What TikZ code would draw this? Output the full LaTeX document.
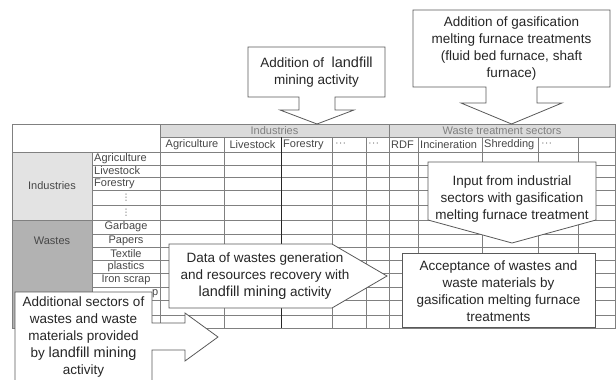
\documentclass[tikz,border=0pt]{standalone}
\usepackage{fontspec}
\setmainfont{Liberation Sans}
\newfontfamily\symfont{DejaVu Sans}
\usepackage{tikz}
\usetikzlibrary{positioning}

\newcommand{\bigword}[1]{{\fontsize{14.5}{17}\selectfont #1}}

\begin{document}
\begin{tikzpicture}[x=1pt, y=-1pt,
  every node/.style={font=\fontsize{11}{12}\selectfont, inner sep=0pt},
  grid/.style={draw=black!50, line width=0.6pt},
  cell/.style={text=black!72},
  head/.style={text=black!50},
  dots/.style={text=black!60, font=\symfont\fontsize{9}{9}\selectfont},
  callout/.style={draw=black!65, fill=white, line width=0.8pt, line join=miter},
  note/.style={align=center, text=black!85, font=\fontsize{13.5}{17}\selectfont}]

\useasboundingbox (0,0) rectangle (616,380);

% table shading
\fill[black!14] (160,124) rectangle (615,137);
\fill[black!11] (12,152) rectangle (92,220);
\fill[black!30] (12,220) rectangle (92,328);

% table rules
\draw[grid] (12,124) rectangle (615,328);
\draw[grid] (160,137) -- (615,137);
\draw[grid] (12,152) -- (615,152);
\draw[grid] (12,220) -- (615,220);
\foreach \y in {165,177,190,205,234,247,260,273,287,300,315}
  \draw[grid] (92,\y) -- (615,\y);
\draw[grid] (92,152) -- (92,328);
\draw[grid] (160,124) -- (160,328);
\draw[grid] (389,124) -- (389,328);
\foreach \x in {224,332,366,418,482,538,578}
  \draw[grid] (\x,137) -- (\x,328);
\draw[black!85, line width=0.9pt] (281,137) -- (281,328);

% header texts
\node[head] (hInd) at (274.5,131) {Industries};
\node[head] (hWaste) at (502,131) {Waste treatment sectors};
\node[cell] (cAgri) at (192,145) {Agriculture};
\node[cell] (cLive) at (252.5,145) {Livestock};
\node[cell, anchor=west] (cFor) at (283,145) {Forestry};
\node[head, anchor=west] (cDotA) at (335,145) {···};
\node[head, anchor=west] (cDotB) at (368,145) {···};
\node[cell, anchor=west] (cRdf) at (391,145) {RDF};
\node[cell, anchor=west] (cInc) at (420,145) {Incineration};
\node[cell, anchor=west] (cShr) at (484,145) {Shredding};
\node[head, anchor=west] (cDotC) at (541,145) {···};

% row texts
\node[cell] (gInd) at (52,186) {Industries};
\node[cell] (gWaste) at (52,241) {Wastes};
\node[cell, anchor=west] (rAgri) at (94,158.5) {Agriculture};
\node[cell, anchor=west] (rLive) at (94,171) {Livestock};
\node[cell, anchor=west] (rFor) at (94,183.5) {Forestry};
\node[dots] (rDotA) at (126,197.5) {⋮};
\node[dots] (rDotB) at (126,212.5) {⋮};
\node[cell] (rGarb) at (126,227) {Garbage};
\node[cell] (rPap) at (126,240.5) {Papers};
\node[cell] (rTex) at (126,253.5) {Textile};
\node[cell] (rPla) at (126,266.5) {plastics};
\node[cell] (rIron) at (126,280) {Iron scrap};
\node[cell, anchor=west] (rHid) at (152,293.5) {p};

% callouts
\draw[callout] (248,47) -- (385,47) -- (385,97) -- (335,97) -- (335,110) -- (354,110)
  -- (317,124) -- (280,110) -- (299,110) -- (299,97) -- (248,97) -- cycle;
\node[note] (landfill) at (316.5,72) {Addition of\ \ \bigword{landfill}\\mining activity};

\draw[callout] (413,10) -- (610,10) -- (610,87) -- (537,87) -- (537,103) -- (562,103)
  -- (511.5,124) -- (461,103) -- (486,103) -- (486,87) -- (413,87) -- cycle;
\node[note] (gasif) at (511.5,48.5) {Addition of gasification\\melting furnace treatments\\(fluid bed furnace, shaft\\furnace)};

\draw[callout] (428,162) -- (596,162) -- (596,220) -- (512,243) -- (428,220) -- cycle;
\node[note] (input) at (512,199) {Input from industrial\\sectors with gasification\\melting furnace treatment};

\draw[callout] (169,244) -- (332,244) -- (387,276) -- (332,308) -- (169,308) -- cycle;
\node[note] (wastedata) at (265,276) {Data of wastes generation\\and resources recovery with\\\bigword{landfill mining} activity};

\draw[callout] (402,253) rectangle (595,327);
\node[note] (accept) at (498.5,291) {Acceptance of wastes and\\waste materials by\\gasification melting furnace\\treatments};

\draw[callout] (15,292) -- (152,292) -- (152,323) -- (185,323) -- (185,313) -- (218,337)
  -- (185,361) -- (185,350) -- (152,350) -- (152,382) -- (15,382) -- cycle;
\node[note] (additional) at (83.5,337) {Additional sectors of\\wastes and waste\\materials provided\\by \bigword{landfill mining}\\activity};
\end{tikzpicture}
\end{document}
